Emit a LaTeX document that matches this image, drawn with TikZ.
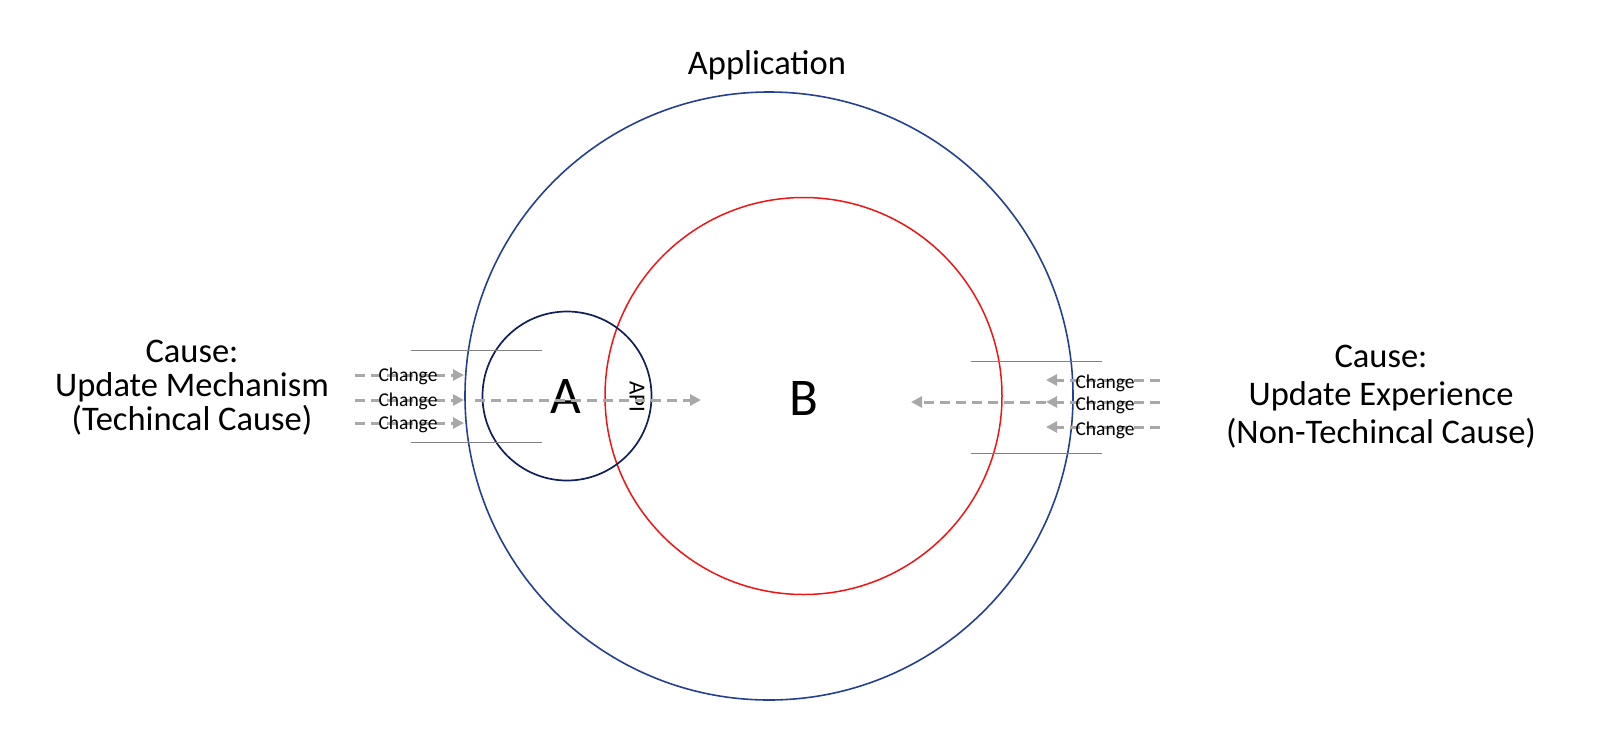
\documentclass[tikz,border=0pt]{standalone}
\usepackage{fontspec}
\setmainfont{Carlito}
\usetikzlibrary{arrows.meta}
\definecolor{outerblue}{RGB}{36,64,146}
\definecolor{navyA}{RGB}{16,30,92}
\definecolor{redB}{RGB}{240,20,20}
\definecolor{arrgray}{RGB}{168,168,168}
\definecolor{linegray}{RGB}{130,130,130}
\tikzset{
  chg/.style={draw=arrgray, line width=3pt, dash pattern=on 10pt off 6pt, -{Triangle[length=11pt,width=11pt]}},
  chglabel/.style={font=\fontsize{19.5}{20}\selectfont, inner sep=0pt},
  cause/.style={font=\fontsize{34.5}{34}\selectfont, inner sep=0pt, anchor=base},
  bigletter/.style={font=\fontsize{53}{53}\selectfont, inner sep=0pt},
  thinline/.style={draw=linegray, line width=1pt},
}
\begin{document}
\begin{tikzpicture}[x=1pt,y=-1pt]
\useasboundingbox (0,0) rectangle (1600,753);
% circles
\draw[outerblue, line width=1.6pt] (769,396) circle (304);
\draw[redB, line width=1.5pt] (803.5,396) circle (198.5);
\draw[navyA, line width=1.7pt] (567,396) circle (84.5);
% titles
\node[font=\fontsize{34.5}{34}\selectfont, inner sep=0pt] (app) at (767,65) {Application};
\node[cause] (lcause1) at (192,362) {Cause:};
\node[cause] (lcause2) at (192,396) {Update Mechanism};
\node[cause] (lcause3) at (192,430) {(Techincal Cause)};
\node[cause] (rcause1) at (1381,367) {Cause:};
\node[cause] (rcause2) at (1381,405) {Update Experience};
\node[cause] (rcause3) at (1381,443) {(Non-Techincal Cause)};
\node[bigletter] (A) at (566,396) {A};
\node[bigletter] (B) at (803.5,398) {B};
\node[font=\fontsize{23}{23}\selectfont, inner sep=0pt, rotate=-90] (api) at (637,397) {API};
% thin lines
\coordinate (l1a) at (411,350); \coordinate (l1b) at (542,350);
\coordinate (l2a) at (411,442); \coordinate (l2b) at (542,442);
\coordinate (r1a) at (971,361); \coordinate (r1b) at (1102,361);
\coordinate (r2a) at (971,453); \coordinate (r2b) at (1102,453);
\draw[thinline] (l1a) -- (l1b);
\draw[thinline] (l2a) -- (l2b);
\draw[thinline] (r1a) -- (r1b);
\draw[thinline] (r2a) -- (r2b);
% left change arrows
\coordinate (la1) at (355,375); \coordinate (lb1) at (464,375);
\coordinate (la2) at (355,400); \coordinate (lb2) at (464,400);
\coordinate (la3) at (355,423); \coordinate (lb3) at (464,423);
\draw[chg] (la1) -- (lb1);
\draw[chg] (la2) -- (lb2);
\draw[chg] (la3) -- (lb3);
\node[chglabel] (lc1) at (408,376) {Change};
\node[chglabel] (lc2) at (408,401) {Change};
\node[chglabel] (lc3) at (408,424) {Change};
% long arrows
\coordinate (lla) at (475,400); \coordinate (llb) at (701,400);
\draw[chg] (lla) -- (llb);
% right change arrows
\coordinate (ra1) at (1160,380); \coordinate (rb1) at (1046,380);
\coordinate (ra2) at (1160,402); \coordinate (rb2) at (1046,402);
\coordinate (ra3) at (1160,427); \coordinate (rb3) at (1046,427);
\draw[chg] (ra1) -- (rb1);
\draw[chg] (ra2) -- (rb2);
\draw[chg] (ra3) -- (rb3);
\coordinate (rla) at (1046,402); \coordinate (rlb) at (911,402);
\draw[chg] (rla) -- (rlb);
\node[chglabel] (rc1) at (1105,383) {Change};
\node[chglabel] (rc2) at (1105,405) {Change};
\node[chglabel] (rc3) at (1105,430) {Change};
\end{tikzpicture}
\end{document}
